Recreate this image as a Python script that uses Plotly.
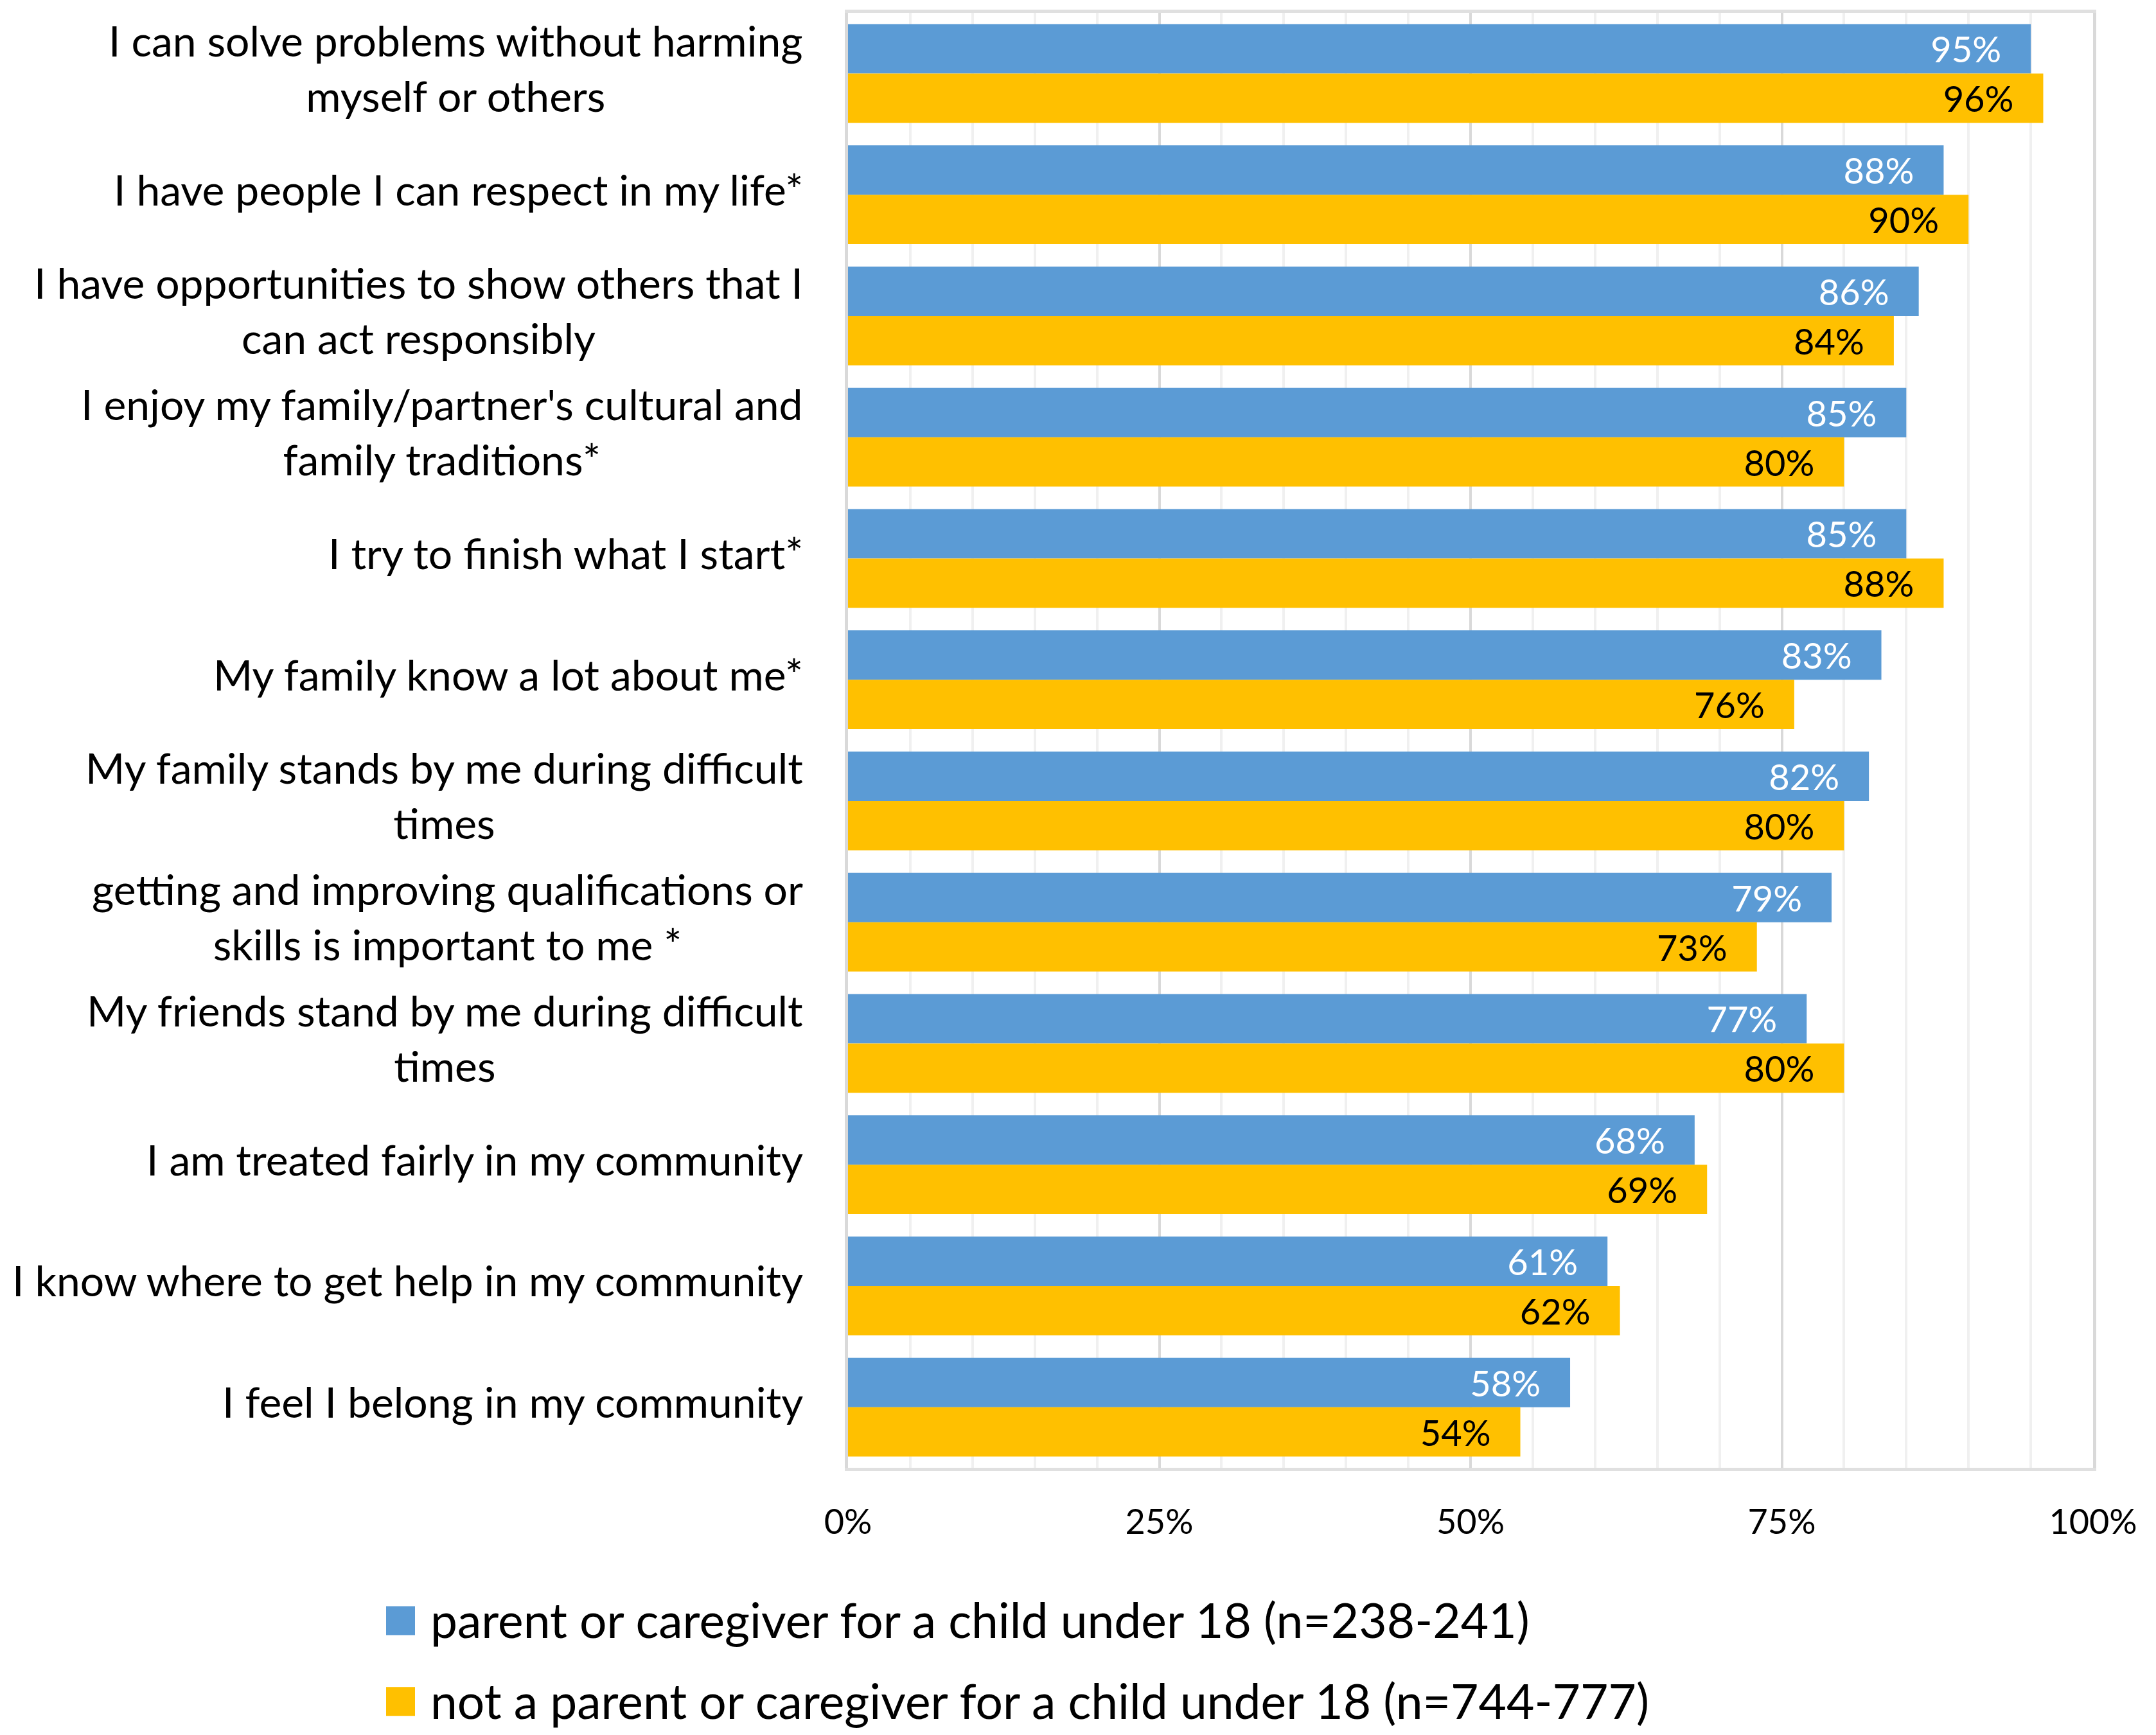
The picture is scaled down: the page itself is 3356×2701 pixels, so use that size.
import plotly.graph_objects as go

categories = [
    "I can solve problems without harming<br>myself or others",
    "I have people I can respect in my life*",
    "I have opportunities to show others that I<br>can act responsibly",
    "I enjoy my family/partner's cultural and<br>family traditions*",
    "I try to finish what I start*",
    "My family know a lot about me*",
    "My family stands by me during difficult<br>times",
    "getting and improving qualifications or<br>skills is important to me *",
    "My friends stand by me during difficult<br>times",
    "I am treated fairly in my community",
    "I know where to get help in my community",
    "I feel I belong in my community",
]
parent_values = [95, 88, 86, 85, 85, 83, 82, 79, 77, 68, 61, 58]
nonparent_values = [96, 90, 84, 80, 88, 76, 80, 73, 80, 69, 62, 54]
series_names = [
    "parent or caregiver for a child under 18 (n=238-241)",
    "not a parent or caregiver for a child under 18 (n=744-777)",
]
series_colors = ["#5B9BD5", "#FFC000"]
label_colors = ["#FFFFFF", "#000000"]
x_tick_vals = [0, 25, 50, 75, 100]
x_tick_text = ["0%", "25%", "50%", "75%", "100%"]

FONT = "Lato"
PAGE_W, PAGE_H = 3356, 2701
BODY = 8  # default body margin of the page
W, H = PAGE_W - 2 * BODY, PAGE_H - 2 * BODY
# absolute (page) positions of the plot area
PX0, PX1, PY0, PY1 = 1320, 3258, 15, 2285
L = PX0 - BODY
T = PY0 - BODY
R = BODY + W - PX1
B = BODY + H - PY1
plot_w = PX1 - PX0
plot_h = PY1 - PY0


def px_x(px):
    return (px - PX0) / plot_w


def px_y(py):
    return (PY1 - py) / plot_h


ids = list(range(len(categories)))

fig = go.Figure()
for vals, name, col, lc in zip([parent_values, nonparent_values], series_names, series_colors, label_colors):
    fig.add_trace(go.Bar(
        y=ids, x=vals, orientation="h", name=name,
        marker=dict(color=col, line=dict(width=0)),
        text=[f"{v}%\u00a0\u00a0\u00a0" for v in vals],
        textposition="inside", insidetextanchor="end",
        textfont=dict(family=FONT, size=56, color=lc),
        constraintext="none",
        showlegend=False,
        hoverinfo="skip",
    ))

# category labels (centered multi-line, right-aligned block)
for i, c in enumerate(categories):
    fig.add_annotation(
        xref="paper", yref="y", x=px_x(1252), y=i, yshift=9,
        text=c, showarrow=False, xanchor="right", yanchor="middle",
        align="center", font=dict(family=FONT, size=66, color="#000000"),
    )

# legend (drawn manually for large swatches)
legend_rows = [2522, 2648]
for name, col, cy in zip(series_names, series_colors, legend_rows):
    fig.add_shape(type="rect", xref="paper", yref="paper",
                  x0=px_x(601), x1=px_x(646), y0=px_y(cy + 24), y1=px_y(cy - 21),
                  fillcolor=col, line=dict(width=0))
    fig.add_annotation(xref="paper", yref="paper", x=px_x(668), y=px_y(cy),
                       text=name, showarrow=False, xanchor="left", yanchor="middle",
                       font=dict(family=FONT, size=75, color="#000000"))

fig.update_layout(
    width=W, height=H,
    margin=dict(l=L, r=R, t=T, b=B, pad=0),
    paper_bgcolor="white", plot_bgcolor="white",
    barmode="group", bargap=0.185, bargroupgap=0,
    font=dict(family=FONT, color="#000000"),
    showlegend=False,
)
fig.update_xaxes(
    range=[0, 100], tickvals=x_tick_vals, ticktext=x_tick_text,
    tickfont=dict(family=FONT, size=54, color="#000000"),
    showgrid=True, gridcolor="#D9D9D9", gridwidth=4,
    minor=dict(dtick=5, showgrid=True, gridcolor="#F0F0F0", gridwidth=4),
    showline=True, linecolor="#E0E0E0", linewidth=5, mirror=True,
    ticks="", ticklabelstandoff=33, zeroline=False,
)
fig.update_yaxes(
    type="linear", range=[len(categories) - 0.5, -0.5],
    showticklabels=False, showgrid=False, zeroline=False,
    showline=True, linecolor="#D9D9D9", linewidth=5, mirror=True, ticks="",
)

fig.write_html("out.html")
